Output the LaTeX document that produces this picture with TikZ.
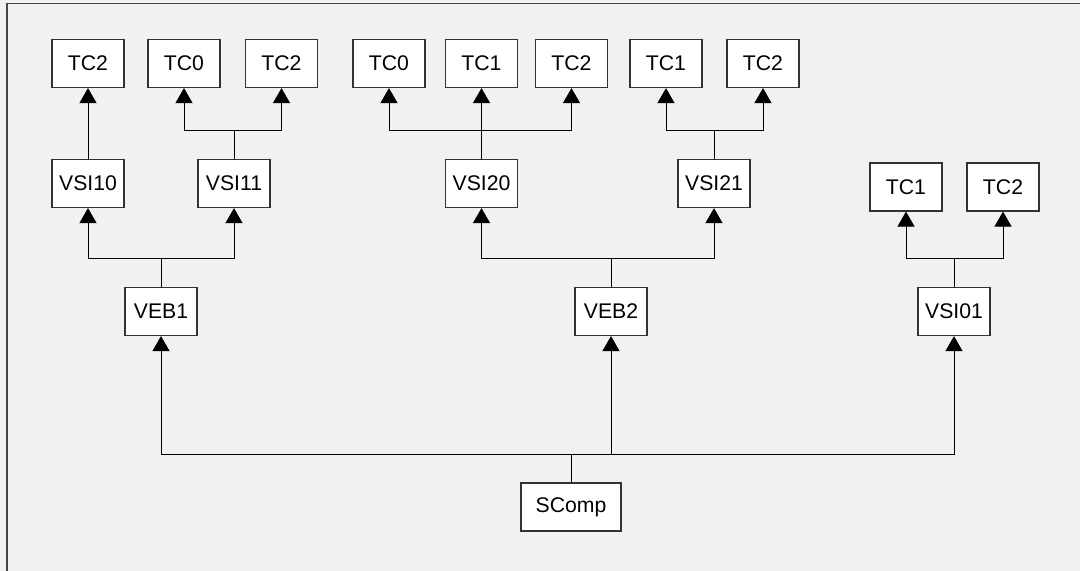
\documentclass[tikz,border=0pt]{standalone}
\usepackage{fontspec}
\setmainfont{Liberation Sans}
\usetikzlibrary{arrows.meta}
\definecolor{bg}{HTML}{F1F1F1}
\definecolor{frm}{HTML}{444444}
\tikzset{
  blk/.style={draw=black!80, fill=white, minimum width=36pt, minimum height=24pt,
    inner sep=0pt, line width=0.6pt, font=\fontsize{10.6}{12}\selectfont},
  arr/.style={-{Triangle[width=8.5pt,length=7.5pt]}, line width=0.5pt},
  wire/.style={line width=0.5pt}
}
\begin{document}
\begin{tikzpicture}[x=0.5pt,y=-0.5pt]
\fill[bg] (0,0) rectangle (1080,571);
\useasboundingbox (0,0) rectangle (1080,571);
\draw[frm, line width=0.8pt] (1080,3.5) -- (7,3.5) -- (7,571);
% top row
\node[blk] (tc10) at (88,63.5) {TC2};
\node[blk] (tc11a) at (184,63.5) {TC0};
\node[blk] (tc11b) at (281.5,63.5) {TC2};
\node[blk] (tc20a) at (389,63.5) {TC0};
\node[blk] (tc20b) at (481.5,63.5) {TC1};
\node[blk] (tc20c) at (571.5,63.5) {TC2};
\node[blk] (tc21a) at (666,63.5) {TC1};
\node[blk] (tc21b) at (763,63.5) {TC2};
% second row
\node[blk] (vsi10) at (88,183.5) {VSI10};
\node[blk] (vsi11) at (234,183.5) {VSI11};
\node[blk] (vsi20) at (481.5,183.5) {VSI20};
\node[blk] (vsi21) at (714,183.5) {VSI21};
\node[blk] (tc01a) at (906,187) {TC1};
\node[blk] (tc01b) at (1003,187) {TC2};
% third row
\node[blk] (veb1) at (161,311.5) {VEB1};
\node[blk] (veb2) at (611,311.5) {VEB2};
\node[blk] (vsi01) at (954,311.5) {VSI01};
\node[blk, minimum width=50pt] (scomp) at (571,507) {SComp};
% buses
\coordinate (b11) at (234,131);
\coordinate (b21) at (714,131);
\coordinate (b20) at (481.5,131);
\coordinate (e1) at (161,259);
\coordinate (e2) at (611,259);
\coordinate (e01) at (954,259);
\coordinate (bus) at (571,454);
\draw[arr] (vsi10.north) -- (tc10.south);
\draw[arr] (vsi20.north) -- (tc20b.south);
\foreach \b/\p in {b11/vsi11, b21/vsi21, e1/veb1, e2/veb2, e01/vsi01, bus/scomp}
  \draw[wire] (\p.north) -- (\b);
\foreach \b/\c in {b11/tc11a, b11/tc11b, b20/tc20a, b20/tc20c, b21/tc21a, b21/tc21b,
    e1/vsi10, e1/vsi11, e2/vsi20, e2/vsi21, e01/tc01a, e01/tc01b,
    bus/veb1, bus/veb2, bus/vsi01}
  \draw[arr] (\b) -| (\c.south);
\end{tikzpicture}
\end{document}
